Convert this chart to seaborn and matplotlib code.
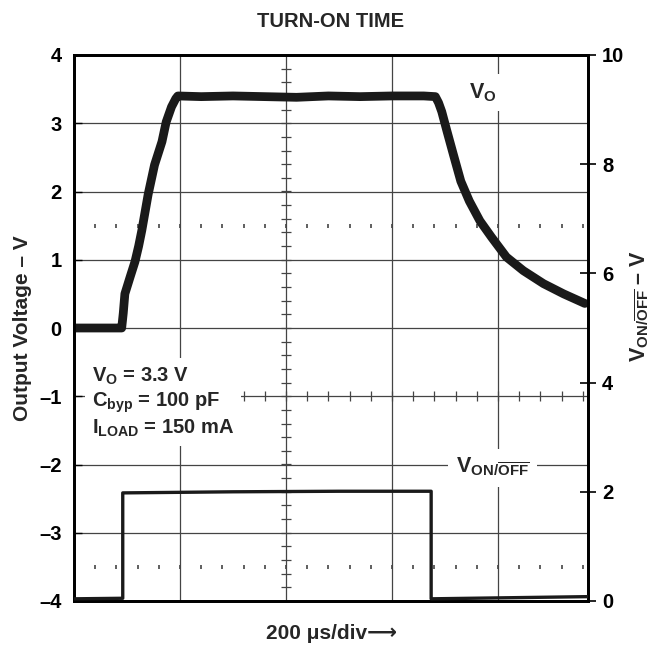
import numpy as np
import pandas as pd
import matplotlib
matplotlib.use("Agg")
import matplotlib.pyplot as plt
import seaborn as sns

# x in scope divisions (200 us/div)
vo_time = [0.0, 0.1, 0.2, 0.3, 0.4, 0.45, 0.465, 0.48, 0.53, 0.575, 0.61,
           0.64, 0.70, 0.76, 0.83, 0.87, 0.92, 0.96, 0.98, 1.2, 1.5, 1.8, 2.1,
           2.4, 2.7, 3.0, 3.3, 3.41, 3.44, 3.47, 3.52, 3.58, 3.65, 3.73, 3.83,
           3.94, 4.08, 4.24, 4.43, 4.62, 4.82]
vo_volts = [0.0, 0.0, 0.0, 0.0, 0.0, 0.0, 0.22, 0.5, 0.75, 0.97, 1.2,
            1.43, 1.96, 2.39, 2.73, 3.02, 3.24, 3.36, 3.4, 3.39, 3.4, 3.39,
            3.38, 3.4, 3.39, 3.4, 3.4, 3.39, 3.3, 3.17, 2.88, 2.54, 2.15, 1.86,
            1.57, 1.33, 1.04, 0.84, 0.65, 0.50, 0.36]

onoff_time = [0.0, 0.46, 0.46, 1.5, 2.5, 3.37, 3.37, 4.85]
onoff_volts = [0.04, 0.05, 1.98, 2.0, 2.01, 2.01, 0.04, 0.08]

left_ticks = [-4, -3, -2, -1, 0, 1, 2, 3, 4]
right_ticks = [0, 2, 4, 6, 8, 10]
div_lines = [1, 2, 3, 4]
n_div = 4.85

sns.set_theme(style="white")
plt.rcParams['font.family'] = ['Liberation Sans', 'DejaVu Sans']
plt.rcParams['font.weight'] = 'bold'
plt.rcParams['mathtext.fontset'] = 'custom'
plt.rcParams['mathtext.rm'] = 'Liberation Sans:bold'
plt.rcParams['mathtext.it'] = 'Liberation Sans:bold'
plt.rcParams['mathtext.bf'] = 'Liberation Sans:bold'

fs = 14.5
fig = plt.figure(figsize=(6.63, 6.60), dpi=100)
ax = fig.add_axes([74/663, 1 - 601/660, (588 - 74)/663, (601 - 55)/660])
ax2 = ax.twinx()

# scope graticule
ax.set_xlim(0, n_div)
ax.set_ylim(-4, 4)
ax.set_xticks(div_lines)
ax.set_xticklabels([])
ax.set_yticks(left_ticks)
ax.set_yticklabels([str(t).replace('-', '\u2013') for t in left_ticks])
ax.grid(True, color='#444444', linewidth=0.9)
ax.tick_params(axis='x', length=0)
ax.tick_params(axis='y', direction='in', length=6, width=1, colors='black',
               labelsize=fs, pad=9)
for s in ax.spines.values():
    s.set_color('black')
    s.set_linewidth(2)

minor = np.round(np.arange(0.2, n_div, 0.2), 2)
ax.plot(minor, np.full(len(minor), -1.0), ls='none', marker='|', ms=7,
        mew=0.9, color='#444444')
ax.plot(np.full(len(np.arange(-3.8, 4, 0.2)), 2.0), np.arange(-3.8, 4, 0.2),
        ls='none', marker='_', ms=7, mew=0.9, color='#444444')
for lvl in [1.5, -3.5]:
    ax.plot(minor, np.full(len(minor), lvl), ls='none', marker='|', ms=2.5,
            mew=1.2, color='#444444')

vo = pd.DataFrame({'t': vo_time, 'v': vo_volts})
sns.lineplot(data=vo, x='t', y='v', ax=ax, color='#1a1a1a', linewidth=6.3,
             estimator=None, sort=False, solid_capstyle='round',
             solid_joinstyle='round', zorder=5)

onoff = pd.DataFrame({'t': onoff_time, 'v': onoff_volts})
sns.lineplot(data=onoff, x='t', y='v', ax=ax2, color='#1a1a1a', linewidth=2.4,
             estimator=None, sort=False, solid_joinstyle='round', zorder=5)

ax2.set_ylim(0, 10)
ax2.set_yticks(right_ticks)
ax2.set_yticklabels([str(t) for t in right_ticks])
ax2.tick_params(axis='y', direction='inout', length=12, width=1.2,
                colors='black', labelsize=fs, pad=4)
ax2.grid(False)
for s in ax2.spines.values():
    s.set_color('black')
    s.set_linewidth(2)

ax.set_xlabel('200 \u03bcs/div\u27f6', fontsize=15, fontweight='bold',
              labelpad=13)
ax.set_ylabel('Output Voltage \u2013 V', fontsize=15, fontweight='bold',
              labelpad=5)
ax2.set_ylabel(r'$\mathrm{V}_{\mathrm{ON/}\overline{\mathrm{OFF}}}$' + ' \u2013 V',
               fontsize=15.5, fontweight='bold')
ax2.yaxis.set_label_coords(1.08, 0.54)
ax.set_title('TURN-ON TIME', fontsize=14.5, fontweight='bold', pad=20)

box = dict(facecolor='white', edgecolor='none', boxstyle='square,pad=0.35')
ax.text(0.17, -0.55,
        '$\\mathrm{V_O}$ = 3.3 V\n$\\mathrm{C_{byp}}$ = 100 pF\n'
        '$\\mathrm{I_{LOAD}}$ = 150 mA',
        fontsize=fs, fontweight='bold', ha='left', va='top', bbox=box,
        linespacing=1.2, zorder=3)
ax.text(3.86, 3.45, r'$\mathrm{V_O}$', fontsize=fs + 1, ha='center',
        va='center', bbox=box, zorder=3)
ax.text(3.95, -2.05, r'$\mathrm{V}_{\mathrm{ON/}\overline{\mathrm{OFF}}}$',
        fontsize=fs + 1, ha='center', va='center', bbox=box, zorder=3)

fig.savefig('out.png', dpi=100)
